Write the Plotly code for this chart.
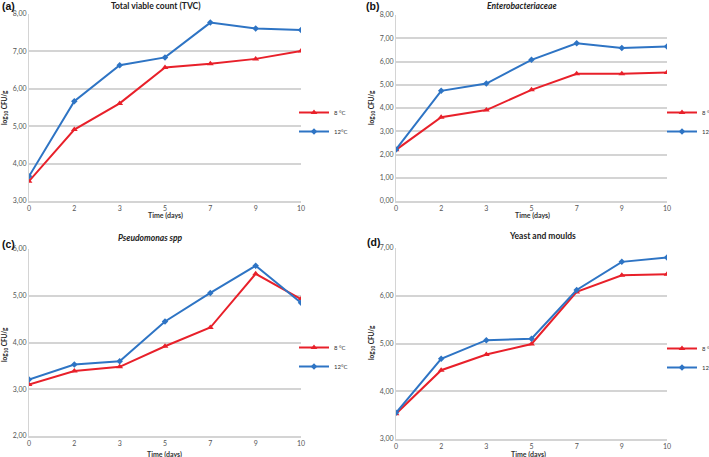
import plotly.graph_objects as go

days = ["0", "2", "3", "5", "7", "9", "10"]

tvc_8 = [3.53, 4.91, 5.61, 6.57, 6.67, 6.80, 7.01]
tvc_12 = [3.66, 5.67, 6.63, 6.84, 7.77, 7.61, 7.57]

ent_8 = [2.20, 3.60, 3.91, 4.78, 5.47, 5.47, 5.53]
ent_12 = [2.22, 4.74, 5.05, 6.07, 6.78, 6.58, 6.64]

pse_8 = [3.10, 3.39, 3.48, 3.92, 4.32, 5.47, 4.93]
pse_12 = [3.21, 3.53, 3.60, 4.45, 5.06, 5.64, 4.85]

yam_8 = [3.53, 4.44, 4.77, 4.99, 6.08, 6.43, 6.45]
yam_12 = [3.55, 4.68, 5.07, 5.10, 6.12, 6.71, 6.80]

series_names = ["8 °C", "12°C"]
panel_titles = ["Total viable count (TVC)", "<i>Enterobacteriaceae</i>",
                "<i>Pseudomonas spp</i>", "Yeast and moulds"]
panel_letters = ["(a)", "(b)", "(c)", "(d)"]
y_ranges = [[3, 8], [0, 8], [2, 6], [3, 7]]

W, H = 709, 457
RED = "#e8202a"
BLUE = "#2e74c4"
GRID = "#d4d4d4"
TICKC = "#555555"
FONT = "Lato"

def px(x):
    return x / W

def py(y):
    return 1 - y / H

# plot areas (left, right, top, bottom) in pixels
areas = [(29, 301, 14, 201), (396, 667, 15, 201), (29, 301, 249, 436), (396, 667, 248, 439)]
data = [(tvc_8, tvc_12), (ent_8, ent_12), (pse_8, pse_12), (yam_8, yam_12)]
title_pos = [(156, 6), (522, 6), (150, 238), (542, 236)]
letter_pos = [(0, 6), (364, 6), (0, 244), (365, 242)]
ytitle_pos = [(5, 108), (372, 108), (5, 345), (372, 343)]
xtitle_pos = [(165, 215), (532, 215), (164, 454), (528, 454)]
legend_pos = [(294, 98), (662, 98), (294, 333), (662, 334)]

fig = go.Figure()
layout = dict(
    width=W, height=H, margin=dict(l=0, r=0, t=0, b=0, autoexpand=False),
    plot_bgcolor="white", paper_bgcolor="white",
    separators=",.", showlegend=True,
    font=dict(family=FONT, color=TICKC),
)
annotations = []

for i in range(4):
    sfx = "" if i == 0 else str(i + 1)
    xa, ya = "x" + sfx, "y" + sfx
    lg = "legend" if i == 0 else "legend" + str(i + 1)
    s8, s12 = data[i]
    fig.add_trace(go.Scatter(
        x=days, y=s8, name=series_names[0], mode="lines+markers",
        line=dict(color=RED, width=2), marker=dict(symbol="triangle-up", size=6, color=RED),
        xaxis=xa, yaxis=ya, legend=lg))
    fig.add_trace(go.Scatter(
        x=days, y=s12, name=series_names[1], mode="lines+markers",
        line=dict(color=BLUE, width=2), marker=dict(symbol="diamond", size=5, color=BLUE),
        xaxis=xa, yaxis=ya, legend=lg))
    l, r, t, b = areas[i]
    layout["xaxis" + sfx] = dict(
        domain=[px(l), px(r)], anchor=ya, type="category", range=[0, 6],
        showgrid=False, showline=True, linecolor=GRID, linewidth=1.5,
        ticks="", ticklabelstandoff=0, automargin=False,
        tickfont=dict(size=7, color=TICKC), zeroline=False)
    layout["yaxis" + sfx] = dict(
        domain=[py(b), py(t)], anchor=xa, range=y_ranges[i], dtick=1,
        tickformat=".2f", showgrid=True, gridcolor=GRID, gridwidth=1.5,
        showline=True, linecolor=GRID, linewidth=1, automargin=False,
        ticks="", tickfont=dict(size=7, color=TICKC), zeroline=False)
    lx, ly = legend_pos[i]
    layout[lg] = dict(
        x=px(lx), y=py(ly), xanchor="left", yanchor="top",
        font=dict(size=6, color="#333333"), bgcolor="rgba(0,0,0,0)",
        itemwidth=30, tracegroupgap=0)
    tx, ty = title_pos[i]
    annotations.append(dict(
        text="<b>" + panel_titles[i] + "</b>", x=px(tx), y=py(ty), xref="paper", yref="paper",
        showarrow=False, xanchor="center", yanchor="middle",
        font=dict(size=8.5, color="#222222", family=FONT)))
    lx2, ly2 = letter_pos[i]
    annotations.append(dict(
        text="<b>" + panel_letters[i] + "</b>", x=px(lx2), y=py(ly2), xref="paper", yref="paper",
        showarrow=False, xanchor="left", yanchor="middle",
        font=dict(size=10.5, color="#111111", family="Liberation Sans")))
    yx, yy = ytitle_pos[i]
    annotations.append(dict(
        text="<b>log<sub>10</sub> CFU/g</b>", x=px(yx), y=py(yy), xref="paper", yref="paper",
        showarrow=False, xanchor="center", yanchor="middle", textangle=-90,
        font=dict(size=6.5, color="#222222", family=FONT)))
    xx, xy = xtitle_pos[i]
    annotations.append(dict(
        text="<b>Time (days)</b>", x=px(xx), y=py(xy), xref="paper", yref="paper",
        showarrow=False, xanchor="center", yanchor="middle",
        font=dict(size=7, color="#333333", family=FONT)))

layout["annotations"] = annotations
fig.update_layout(**layout)
fig.write_html("out.html", config={"displayModeBar": False},
               post_script="document.body.style.margin='0';")
